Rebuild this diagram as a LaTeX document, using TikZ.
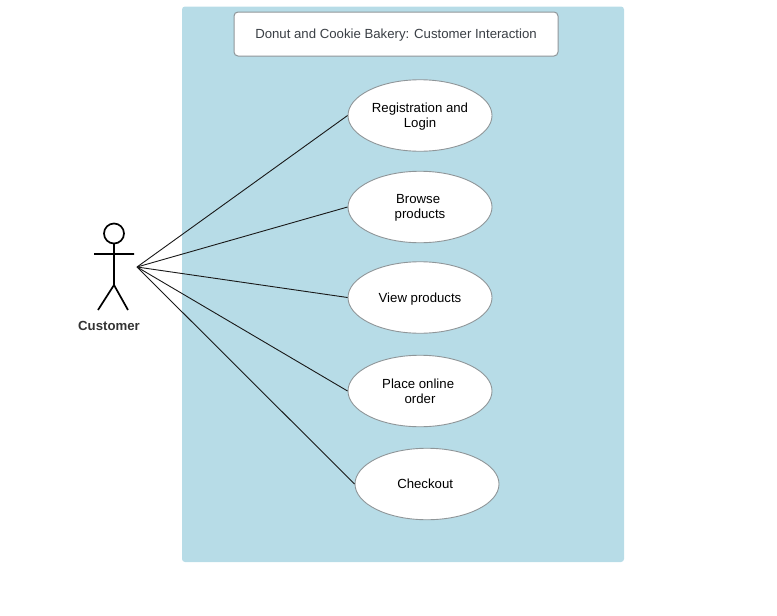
\documentclass[tikz,border=0pt]{standalone}
\usepackage{fontspec}
\setmainfont{Liberation Sans}
\usetikzlibrary{shapes.geometric}
\definecolor{panelblue}{HTML}{B7DCE7}
\definecolor{edgegray}{HTML}{8F9699}
\definecolor{titleink}{HTML}{3A3F45}
\newcommand{\lowerline}[1]{\raisebox{-1.2pt}[\height][\depth]{#1}}
\tikzset{
  x=1pt,y=-1pt,
  usecase/.style={ellipse,draw=edgegray,fill=white,line width=0.9pt,minimum width=144pt,minimum height=71.5pt,inner sep=0pt,align=center,font=\fontsize{13.2}{15}\selectfont,text=black},
  link/.style={draw=black!90,line width=0.9pt},
  stick/.style={draw=black,line width=1.7pt}
}
\begin{document}
\begin{tikzpicture}
\useasboundingbox (0,0) rectangle (777,616);
\fill[panelblue,rounded corners=3pt] (182,6.5) rectangle (624,562);
\node[draw=edgegray,fill=white,rounded corners=4pt,line width=1pt,minimum width=324pt,minimum height=44pt,inner sep=0pt,text=titleink,font=\fontsize{13.2}{15}\selectfont] (title) at (396,34) {\lowerline{Donut and Cookie Bakery: Customer Interaction}};
\node[usecase] (reg) at (420,115.5) {\lowerline{Registration and}\\\lowerline{Login}};
\node[usecase] (browse) at (420,207) {\lowerline{Browse~}\\\lowerline{products}};
\node[usecase] (view) at (420,297.5) {\lowerline{View products}};
\node[usecase] (order) at (420,391) {\mbox{Place online~}\\order};
\node[usecase] (check) at (427,484) {\mbox{Checkout~}};
\coordinate (hub) at (137,267);
\draw[link] (hub) -- (reg.west);
\draw[link] (hub) -- (browse.west);
\draw[link] (hub) -- (view.west);
\draw[link] (hub) -- (order.west);
\draw[link] (hub) -- (check.west);
\coordinate (head) at (114,233.5);
\coordinate (neck) at (114,244);
\coordinate (hip) at (114,285);
\coordinate (armL) at (94,254);
\coordinate (armR) at (134,254);
\coordinate (footL) at (98,310);
\coordinate (footR) at (128,310);
\draw[stick] (head) circle[radius=10];
\draw[stick] (neck) -- (hip) (armL) -- (armR) (footL) -- (hip) -- (footR);
\node[font=\bfseries\fontsize{13.2}{15}\selectfont,text=black!80] (cust) at (109,325.5) {Customer};
\end{tikzpicture}
\end{document}
